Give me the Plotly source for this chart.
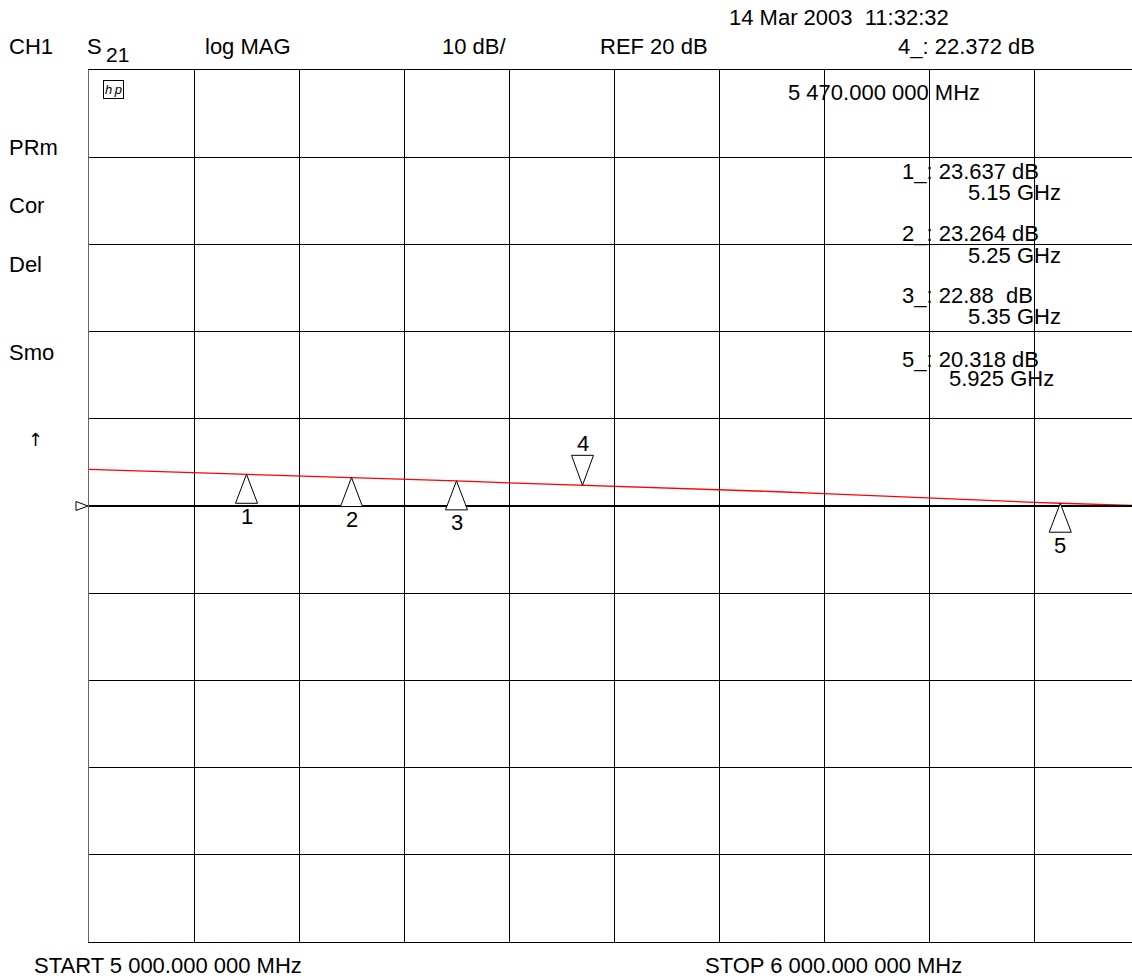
import plotly.graph_objects as go

# S21 transmission sweep, 5-6 GHz (GHz, dB)
freq_ghz = [5.00, 5.05, 5.10, 5.15, 5.20, 5.25, 5.30, 5.35, 5.40, 5.45, 5.47, 5.50,
            5.55, 5.60, 5.65, 5.70, 5.75, 5.80, 5.85, 5.90, 5.925, 5.95, 6.00]
s21_db = [24.20, 24.02, 23.83, 23.637, 23.45, 23.264, 23.07, 22.88, 22.66, 22.46, 22.372, 22.27,
          22.08, 21.90, 21.66, 21.41, 21.15, 20.88, 20.64, 20.42, 20.318, 20.22, 20.05]

# markers
marker_ids = ["1", "2", "3", "4", "5"]
marker_freq = [5.15, 5.25, 5.35, 5.47, 5.925]
marker_db = [23.637, 23.264, 22.88, 22.372, 20.318]
active_marker = "4"

# display settings
ref_level = 20
db_per_div = 10
start_mhz = 5000
stop_mhz = 6000
side_labels = ["PRm", "Cor", "Del", "Smo"]

FONT = "Liberation Sans, Arial, sans-serif"
FS = 22
W, H = 1132, 978
L, T, B = 89, 70, 36
PLOT_W = W - L
PLOT_H = H - T - B
DIV_PX = 105  # one horizontal division in pixels (graticule is 10 div wide)

top_db = ref_level + 5 * db_per_div
bot_db = ref_level - 5 * db_per_div
f0 = start_mhz / 1000
span = (stop_mhz - start_mhz) / 1000
x_end = f0 + span * PLOT_W / (10 * DIV_PX)


def px(x):
    return (x - L) / PLOT_W


def py(y):
    return (T + PLOT_H - y) / PLOT_H


fig = go.Figure()
fig.add_trace(go.Scatter(x=freq_ghz, y=s21_db, mode="lines",
                         line=dict(color="#ff0000", width=1.3),
                         hoverinfo="skip", showlegend=False))

annotations = []


def text(t, x, y, size=FS, anchor="left", family=FONT):
    annotations.append(dict(text=t, x=px(x), y=py(y), xref="paper", yref="paper",
                            xanchor=anchor, yanchor="middle", showarrow=False,
                            borderpad=0, borderwidth=0,
                            font=dict(family=family, size=size, color="black")))


# header
text("14 Mar 2003\u00a0\u00a011:32:32", 729, 17)
text("CH1", 9, 47)
text("S", 87, 47)
text("21", 106, 54, size=21)
text("log MAG", 205, 47)
text(f"{db_per_div} dB/", 442, 47)
text(f"REF {ref_level} dB", 600, 47)

ai = marker_ids.index(active_marker)
text(f"{active_marker}_: {marker_db[ai]} dB", 898, 47)
mhz = marker_freq[ai] * 1000
text(f"{int(mhz) // 1000} {int(mhz) % 1000:03d}.000 000 MHz", 788, 92)

# left-hand status labels
for lab, y in zip(side_labels, [147, 206, 264, 352]):
    text(lab, 9, y)
text("\u2191", 28, 440, size=18, family="DejaVu Sans")

# marker readouts (non-active markers)
readout_pos = {"1": (171, 192, 968), "2": (234, 255, 968), "3": (296, 316, 968), "5": (359, 379, 949)}
for mid, f, v in zip(marker_ids, marker_freq, marker_db):
    if mid == active_marker:
        continue
    y1, y2, xf = readout_pos[mid]
    text(f"{mid}_: {str(v).ljust(6)} dB".replace(" ", "\u00a0"), 902, y1)
    text(f"{f:g} GHz", xf, y2)

# start / stop
text(f"START {start_mhz // 1000} {start_mhz % 1000:03d}.000 000 MHz", 34, 965)
text(f"STOP {stop_mhz // 1000} {stop_mhz % 1000:03d}.000 000 MHz", 705, 965)

# hp logo
annotations.append(dict(text="<i>h\u2009p</i>", x=px(103), y=py(90), xref="paper", yref="paper",
                        xanchor="left", yanchor="middle", showarrow=False,
                        borderpad=1, borderwidth=1, bordercolor="black",
                        font=dict(family=FONT, size=13, color="black")))

shapes = []
# reference level line
shapes.append(dict(type="line", xref="paper", yref="y", x0=0, x1=1, y0=ref_level, y1=ref_level,
                   line=dict(color="black", width=2), layer="above"))
# reference position indicator
shapes.append(dict(type="path", xref="paper", yref="y", xsizemode="pixel", ysizemode="pixel",
                   xanchor=0, yanchor=ref_level, path="M-13,4.5 L-1,0 L-13,-4.5 Z",
                   line=dict(color="black", width=1), fillcolor="rgba(0,0,0,0)", layer="above"))

# marker triangles + numbers
for mid, f, v in zip(marker_ids, marker_freq, marker_db):
    down = mid == active_marker
    if down:
        path = "M0,0 L-11,30 L11,30 Z"
    else:
        path = "M0,0 L-11,-29 L11,-29 Z"
    shapes.append(dict(type="path", xref="x", yref="y", xsizemode="pixel", ysizemode="pixel",
                       xanchor=f, yanchor=v, path=path,
                       line=dict(color="black", width=1), fillcolor="white", layer="above"))
    annotations.append(dict(text=mid, x=f, y=v, xref="x", yref="y", showarrow=False,
                            xanchor="center", yanchor="middle", yshift=42 if down else -42,
                            borderpad=0, borderwidth=0,
                            font=dict(family=FONT, size=FS, color="black")))

fig.update_layout(
    width=W, height=H,
    margin=dict(l=L, r=0, t=T, b=B, pad=0),
    paper_bgcolor="white", plot_bgcolor="white",
    showlegend=False,
    annotations=annotations,
    shapes=shapes,
    xaxis=dict(range=[f0, x_end], tick0=f0, dtick=span / 10, showgrid=True,
               gridcolor="black", gridwidth=1, zeroline=False, showticklabels=False,
               ticks="", showline=True, linecolor="black", linewidth=1, mirror=True,
               fixedrange=True),
    yaxis=dict(range=[bot_db, top_db], tick0=bot_db, dtick=db_per_div, showgrid=True,
               gridcolor="black", gridwidth=1, zeroline=False, showticklabels=False,
               ticks="", showline=True, linecolor="#666666", linewidth=1, mirror=False,
               fixedrange=True),
)

fig.write_html("out.html")
